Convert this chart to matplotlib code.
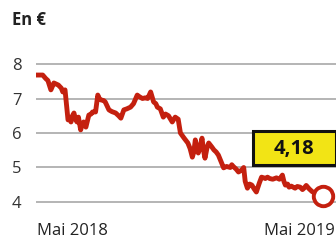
import matplotlib
matplotlib.use("Agg")
import matplotlib.pyplot as plt
from matplotlib.patches import Rectangle

# Days since start (early May 2018) and share price in euros
days = [0, 8, 12, 15, 19, 23, 26, 29, 33, 35, 38, 42, 44, 46, 48, 50, 52, 54, 56, 59, 61,
        63, 66, 70, 73, 75, 79, 82, 84, 86, 90, 92, 97, 101, 106, 110, 113, 117, 121, 126,
        130, 135, 138, 142, 146, 149, 153, 157, 160, 162, 166, 170, 173, 177, 182, 186,
        190, 193, 198, 203, 206, 209, 211, 213, 215, 217, 220, 222, 224, 226, 229, 231,
        235, 238, 241, 244, 248, 251, 255, 260, 262, 264, 268, 271, 275, 278, 280, 283,
        286, 289, 292, 295, 299, 302, 305, 307, 310, 313, 317, 322, 326, 330, 332, 334,
        337, 339, 342, 347, 350, 354, 357, 359, 362, 364, 366, 370, 375, 380, 385]
prices = [7.68, 7.68, 7.58, 7.52, 7.25, 7.45, 7.42, 7.39, 7.30, 7.19, 7.25, 6.38, 6.45,
          6.32, 6.50, 6.58, 6.40, 6.32, 6.46, 6.09, 6.25, 6.32, 6.17, 6.52, 6.55, 6.61,
          6.61, 7.10, 7.00, 6.96, 6.94, 6.90, 6.67, 6.62, 6.58, 6.50, 6.43, 6.67, 6.70,
          6.75, 6.85, 7.10, 7.05, 7.00, 7.02, 7.00, 7.19, 6.90, 6.85, 6.75, 6.70, 6.46,
          6.55, 6.50, 6.32, 6.46, 6.40, 6.00, 5.85, 5.71, 5.55, 5.30, 5.45, 5.80, 5.60,
          5.42, 5.65, 5.85, 5.50, 5.27, 5.60, 5.71, 5.60, 5.51, 5.45, 5.36, 5.15, 4.99,
          5.03, 5.00, 5.08, 5.03, 4.95, 4.87, 4.92, 5.00, 4.60, 4.40, 4.52, 4.49, 4.38,
          4.29, 4.55, 4.72, 4.70, 4.68, 4.72, 4.68, 4.66, 4.70, 4.66, 4.78, 4.60, 4.49,
          4.52, 4.43, 4.46, 4.40, 4.45, 4.43, 4.36, 4.40, 4.48, 4.43, 4.38, 4.30, 4.25,
          4.22, 4.18]
yticks = [4, 5, 6, 7, 8]
x_labels = ["Mai 2018", "Mai 2019"]
unit_label = "En €"
last_label = "4,18"

red = "#c4200f"
fig = plt.figure(figsize=(3.36, 2.4), dpi=100)
fig.patch.set_facecolor("white")
ax = fig.add_axes([36/336, 1 - 210/240, 300/336, 150/240])
ax.set_xlim(-1, 402)
ax.set_ylim(3.768, 8.116)
for s in ax.spines.values():
    s.set_visible(False)
ax.set_xticks([])
ax.set_yticks(yticks)
ax.set_yticklabels([str(t) for t in yticks])
ax.tick_params(axis="y", length=0, pad=14, labelsize=12, labelcolor="#333333")
for lab in ax.get_yticklabels():
    lab.set_fontfamily("Open Sans")
    lab.set_horizontalalignment("center")
for t in yticks:
    ax.axhline(t, color="#a0a0a0", lw=1.1, zorder=1)

ax.plot(days, prices, color=red, lw=3.5, solid_joinstyle="round", zorder=3)
ax.plot(days[-1], prices[-1], "o", ms=14, mfc="white", mec=red, mew=2.8, zorder=4,
        clip_on=False)

fig.text(12/336, 1 - 20/240, unit_label, fontsize=12, fontweight="bold",
         family="Open Sans", color="#222222", va="center", ha="left")
fig.text(37/336, 1 - 231/240, x_labels[0], fontsize=12, family="Open Sans",
         color="#222222", va="center", ha="left")
fig.text(335/336, 1 - 231/240, x_labels[1], fontsize=12, family="Open Sans",
         color="#222222", va="center", ha="right")

box = Rectangle((253/336, 1 - 165/240), 83/336, 34/240, transform=fig.transFigure,
                facecolor="#f2e415", edgecolor="#111111", lw=2.2, zorder=5)
fig.patches.append(box)
fig.text(294/336, 1 - 149/240, last_label, fontsize=14.5, fontweight="bold",
         family="Open Sans", color="#111111", va="center", ha="center", zorder=6)

fig.savefig("out.png", dpi=100)
